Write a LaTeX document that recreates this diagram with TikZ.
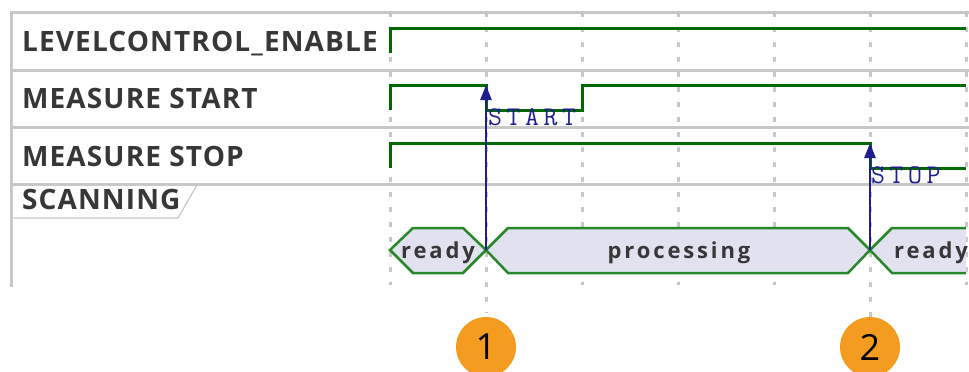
\documentclass[tikz,border=0pt]{standalone}
\usepackage{fontspec}
\usetikzlibrary{arrows.meta}
\newfontfamily\lblfont{Open Sans}[LetterSpace=4]
\newfontfamily\numfont{Open Sans}
\newfontfamily\stfont{Open Sans}[LetterSpace=13]
\newfontfamily\evtfont{Latin Modern Mono}[LetterSpace=17]
\definecolor{gridgray}{RGB}{200,200,200}
\definecolor{siggreen}{RGB}{0,105,0}
\definecolor{hexgreen}{RGB}{40,135,40}
\definecolor{hexfill}{RGB}{225,225,240}
\definecolor{evblue}{RGB}{30,30,145}
\definecolor{lblgray}{RGB}{55,55,55}
\definecolor{mark}{RGB}{243,156,31}
\begin{document}
\begin{tikzpicture}[x=1pt,y=-1pt,
		lbl/.style={anchor=base west,inner sep=0pt,text=lblgray,font=\lblfont\bfseries\fontsize{28}{30}\selectfont},
		statetxt/.style={anchor=base,inner sep=0pt,text=lblgray,font=\stfont\bfseries\fontsize{22}{24}\selectfont},
		evtxt/.style={anchor=base west,inner sep=0pt,text=evblue,font=\evtfont\fontsize{27}{30}\selectfont},
		tick/.style={gridgray,line width=3pt,dash pattern=on 5pt off 10pt},
		sig/.style={siggreen,line width=3pt},
		hex/.style={draw=hexgreen,fill=hexfill,line width=2.5pt},
		ev/.style={evblue,line width=2.5pt,-{Triangle[length=15pt,width=11pt]}},
		num/.style={circle,fill=mark,minimum size=60pt,inner sep=0pt,font=\numfont\fontsize{36}{40}\selectfont}]
	\useasboundingbox (0,0) rectangle (969,372);
	% markers
	\node[num] (n1) at (486,347) {1};
	\node[num] (n2) at (870,347) {2};
	% time grid
	\foreach \x in {390,582,678,774,966}
		\draw[tick] (\x,12)--(\x,285);
	\draw[tick] (486,12)--(n1) [shorten >=4pt];
	\draw[tick] (870,12)--(n2);
	\draw[gridgray,line width=3pt] (969,12)--(11,12)--(11,287);
	\foreach \y in {70,127,184}
		\draw[gridgray,line width=3pt] (11,\y)--(969,\y);
	\draw[gridgray,line width=1.2pt] (11,218)--(178,218)--(197,185);
	% signal names
	\node[lbl] (levl) at (22,51) {LEVELCONTROL\_ENABLE};
	\node[lbl] (mstart) at (22,108) {MEASURE START};
	\node[lbl] (mstop) at (22,166) {MEASURE STOP};
	\node[lbl] (scan) at (22,209) {SCANNING};
	% waveforms
	\draw[sig] (390,53)--(390,28)--(966,28);
	\draw[sig] (390,110)--(390,85)--(486,85)--(486,110)--(582,110)--(582,85)--(966,85);
	\draw[sig] (390,168)--(390,143)--(870,143)--(870,168)--(966,168);
	% states
	\draw[hex] (390,250)--(413,228)--(463,228)--(486,250)--(463,273)--(413,273)--cycle;
	\draw[hex] (486,250)--(508,228)--(848,228)--(870,250)--(848,273)--(508,273)--cycle;
	\fill[hexfill] (966,228)--(892,228)--(870,250)--(892,273)--(966,273)--cycle;
	\draw[hex,fill=none] (966,228)--(892,228)--(870,250)--(892,273)--(966,273);
	\node[statetxt] (rdyA) at (438,258) {ready};
	\node[statetxt] (proc) at (679,258) {processing};
	\node[statetxt] (rdyB) at (931,258) {ready};
	% events
	\coordinate (t1) at (486,250);
	\coordinate (e1) at (486,85);
	\coordinate (t2) at (870,250);
	\coordinate (e2) at (870,143);
	\draw[ev] (t1)--(e1);
	\draw[ev] (t2)--(e2);
	\node[evtxt] (evstart) at (488,125) {START};
	\node[evtxt] (evstop) at (871,183) {STOP};
\end{tikzpicture}
\end{document}
